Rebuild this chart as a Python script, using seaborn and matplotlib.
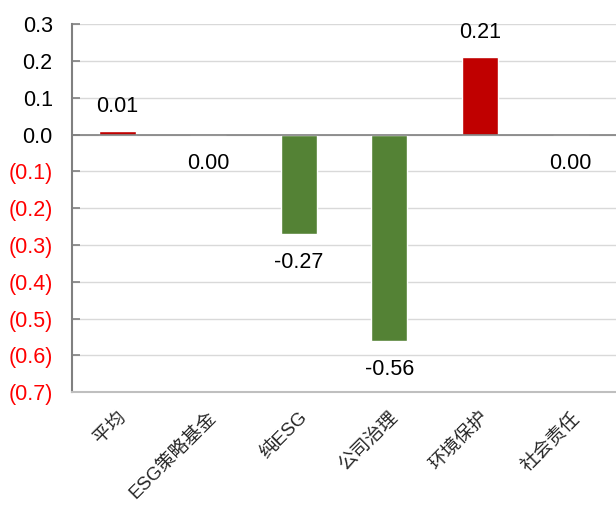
import matplotlib
matplotlib.use("Agg")
import matplotlib.pyplot as plt
import seaborn as sns
import pandas as pd

categories = ["平均", "ESG策略基金", "纯ESG", "公司治理", "环境保护", "社会责任"]
values = [0.01, 0.00, -0.27, -0.56, 0.21, 0.00]
yticks = [0.3, 0.2, 0.1, 0.0, -0.1, -0.2, -0.3, -0.4, -0.5, -0.6, -0.7]

sns.set_theme(style="white")
plt.rcParams["font.family"] = ["Liberation Sans", "Noto Sans CJK SC", "DejaVu Sans"]

RED = "#C00000"
GREEN = "#548235"
GREY = "#808080"

df = pd.DataFrame({"category": categories, "value": values})
colors = [RED if v > 0 else GREEN for v in values]

fig = plt.figure(figsize=(6.16, 5.12), dpi=100)
ax = fig.add_axes([0.117, 0.234, 0.883, 0.719])

sns.barplot(data=df, x="category", y="value", hue="category", palette=colors,
            legend=False, width=0.4, ax=ax, saturation=1)

ax.set_ylim(-0.7, 0.3)
ax.set_yticks(yticks)
ax.set_yticklabels([f"{v:.1f}" if v >= 0 else f"({abs(v):.1f})" for v in yticks],
                   fontsize=15.5)
for lbl, v in zip(ax.get_yticklabels(), yticks):
    lbl.set_color("black" if v >= 0 else "#FF0000")

ax.grid(axis="y", color="#D9D9D9", linewidth=1)
ax.set_axisbelow(True)
ax.axhline(0, color=GREY, linewidth=1.2, zorder=1.5)

for side in ("top", "right"):
    ax.spines[side].set_visible(False)
for side in ("left", "bottom"):
    ax.spines[side].set_color(GREY)
    ax.spines[side].set_linewidth(1.5)
ax.spines["bottom"].set_color("#BFBFBF")

ax.tick_params(axis="y", direction="in", length=6, color=GREY, width=1.2,
               left=True, pad=14)
ax.tick_params(axis="x", length=0, pad=12)
ax.set_xlabel("")
ax.set_ylabel("")

for lbl in ax.get_xticklabels():
    lbl.set_rotation(45)
    lbl.set_rotation_mode("anchor")
    lbl.set_ha("right")
    lbl.set_va("top")
    lbl.set_fontsize(13.5)

for i, v in enumerate(values):
    if v > 0:
        ax.annotate(f"{v:.2f}", (i, v), xytext=(0, 10), textcoords="offset points",
                    ha="center", va="bottom", fontsize=15.5, color="black")
    else:
        ax.annotate(f"{v:.2f}", (i, v), xytext=(0, -13), textcoords="offset points",
                    ha="center", va="top", fontsize=15.5, color="black")

fig.savefig("out.png", dpi=100)
